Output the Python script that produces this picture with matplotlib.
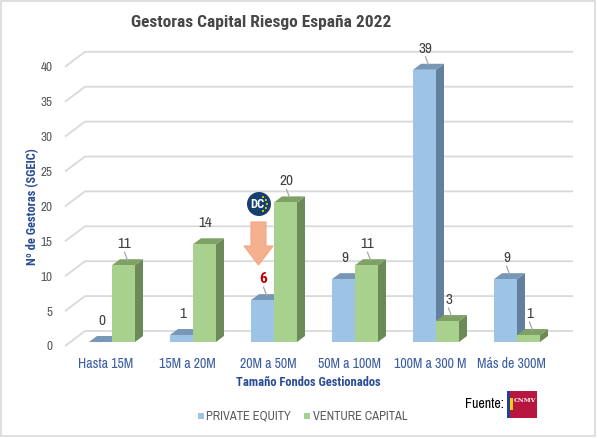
import matplotlib.pyplot as plt
from matplotlib.patches import Polygon, Rectangle, Circle
import numpy as np

# datos
categorias = ['Hasta 15M', '15M a 20M', '20M a 50M', '50M a 100M', '100M a 300 M', 'Más de 300M']
private_equity = [0, 1, 6, 9, 39, 9]
venture_capital = [11, 14, 20, 11, 3, 1]
ticks_y = [0, 5, 10, 15, 20, 25, 30, 35, 40]

plt.rcParams['font.family'] = ['Archivo Narrow', 'DejaVu Sans']
BOLD = ['Roboto Condensed', 'DejaVu Sans']

W, H = 597, 438
fig = plt.figure(figsize=(W / 100, H / 100), dpi=100)

# escala px por unidad (figura de tamaño fijo)
PXX = 81.0
PXY = 6.98
left_px, right_px, bottom_px, top_px = 65, 590, 346, 45
x0 = -(112 - left_px) / PXX
x1 = (right_px - 112) / PXX
ytop = (bottom_px - top_px) / PXY

ax = fig.add_axes([left_px / W, 1 - bottom_px / H, (right_px - left_px) / W, (bottom_px - top_px) / H])
ax.set_xlim(x0, x1)
ax.set_ylim(0, ytop)
for s in ax.spines.values():
    s.set_visible(False)

def px(dx, dy):
    return dx / PXX, dy / PXY

# rejilla 3D
gx, gy = px(20, 15)
grid_end = (573 - 112) / PXX
for v in ticks_y:
    ax.plot([x0, x0 + gx, grid_end], [v, v + gy, v + gy], color='#d9d9d9', lw=1.3,
            zorder=1, clip_on=False, solid_capstyle='butt')

w = 23 / PXX
base = 4 / PXY
ddx, ddy = px(8, 6)
idx = np.arange(len(categorias))

def bar3d(xl, val, front, top, side):
    xr = xl + w
    yt = base + val
    ax.add_patch(Polygon([(xr, base), (xr, yt), (xr + ddx, yt + ddy), (xr + ddx, base + ddy)],
                         closed=True, fc=side, ec='none', zorder=3))
    ax.add_patch(Polygon([(xl, yt), (xr, yt), (xr + ddx, yt + ddy), (xl + ddx, yt + ddy)],
                         closed=True, fc=top, ec='none', zorder=3))
    ax.bar(xl, val, w, bottom=base, align='edge', color=front, zorder=3)

def etiqueta(xc, val, color='#404040', bold=False, leader=True):
    yt = base + val
    lx, ly = px(1, 21)
    if bold:
        ax.text(xc + lx, yt + ly, str(val), ha='center', va='center', fontsize=11,
                color=color, fontweight='bold', family=BOLD, zorder=5)
    else:
        ax.text(xc + lx, yt + ly, str(val), ha='center', va='center', fontsize=11,
                color=color, zorder=5)
    if leader:
        a, b = px(4, 5)
        c, d = px(1, 13)
        ax.plot([xc + a, xc + c], [yt + b, yt + d], color='#a6a6a6', lw=0.9, zorder=5)

for i in idx:
    bar3d(i - w, private_equity[i], '#9dc3e6', '#7896b6', '#62809e')
    bar3d(i, venture_capital[i], '#a9d18e', '#7fa166', '#6b8a57')

for i in idx:
    etiqueta(i - w / 2, private_equity[i],
             color='#c00000' if i == 2 else '#404040', bold=(i == 2), leader=i >= 2 and i != 3)
    etiqueta(i + w / 2, venture_capital[i], leader=i != 1)

ax.set_yticks(ticks_y)
ax.set_yticklabels([str(t) for t in ticks_y])
ax.set_xticks(idx - 6 / PXX)
ax.set_xticklabels(categorias)
ax.tick_params(axis='y', length=0, pad=9, labelsize=9.5, labelcolor='#595959')
ax.tick_params(axis='x', length=0, pad=8, labelsize=10, labelcolor='#3a5ca0')

# capa de decoración en píxeles
ov = fig.add_axes([0, 0, 1, 1], zorder=10)
ov.set_xlim(0, W)
ov.set_ylim(H, 0)
ov.axis('off')
ov.patch.set_alpha(0)

ov.add_patch(Rectangle((1, 1), W - 3, H - 3, fill=False, ec='#d9d9d9', lw=1.2))
ov.text(261, 22, 'Gestoras Capital Riesgo España 2022', ha='center', va='center',
        fontsize=12.5, fontweight='bold', color='#474747', family=BOLD)
ov.text(33, 207, 'Nº de Gestoras (SGEIC)', ha='center', va='center', rotation=90,
        fontsize=9, fontweight='bold', color='#2a4c94', family=BOLD)
ov.text(308, 382, 'Tamaño Fondos Gestionados', ha='center', va='center',
        fontsize=9, fontweight='bold', color='#2a4c94', family=BOLD)

# leyenda
ov.add_patch(Rectangle((198, 413), 6, 6, fc='#9dc3e6', ec='none'))
ov.text(206, 416, 'PRIVATE EQUITY', ha='left', va='center', fontsize=9, color='#595959')
ov.add_patch(Rectangle((304, 413), 6, 6, fc='#a9d18e', ec='none'))
ov.text(313, 416, 'VENTURE CAPITAL', ha='left', va='center', fontsize=9, color='#595959')

# fuente + logo CNMV
ov.text(465, 404, 'Fuente:', ha='left', va='center', fontsize=10, color='#000000')
ov.add_patch(Rectangle((507, 391), 30, 27, fc='#b8163f', ec='none'))
ov.add_patch(Rectangle((507, 391), 3, 27, fc='#20409a', ec='none'))
ov.add_patch(Rectangle((510, 398), 3, 12, fc='#f2d20c', ec='none'))
ov.text(525, 400, 'CNMV', ha='center', va='center', fontsize=4.5, color='white',
        fontweight='bold', family='DejaVu Serif')

# logo DC + flecha
ov.add_patch(Circle((259, 204), 12, fc='#173f6d', ec='none'))
ov.text(257, 204.5, 'DC', ha='center', va='center', fontsize=9, fontweight='bold',
        color='white', family=BOLD)
for ang in np.linspace(-60, 60, 5):
    r = np.deg2rad(ang)
    ov.add_patch(Circle((259 + 8 * np.cos(r), 204 - 8 * np.sin(r)), 1, fc='#f5e100', ec='none'))
ov.add_patch(Polygon([(251, 222), (266, 222), (266, 246), (273, 246), (258.5, 265),
                      (244, 246), (251, 246)], closed=True, fc='#f5b090', ec='#f4a582', lw=0.8))

fig.savefig('out.png', dpi=100)
